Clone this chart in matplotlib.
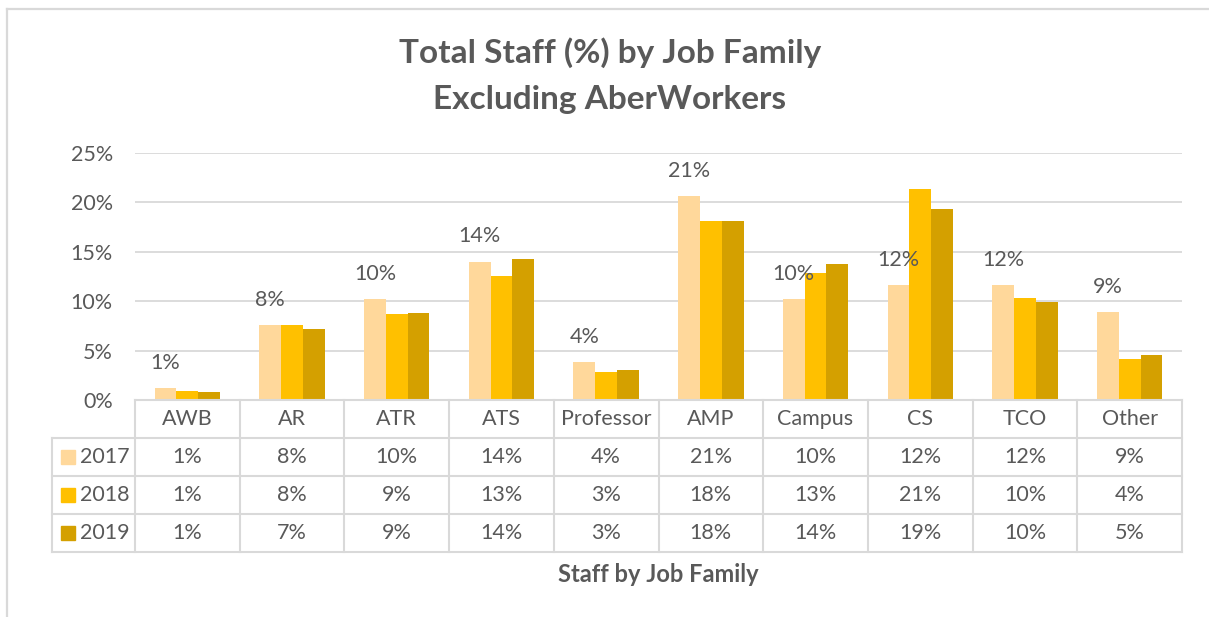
import matplotlib.pyplot as plt
from matplotlib.patches import Rectangle
import numpy as np

plt.rcParams['font.family'] = ['Lato', 'DejaVu Sans']

# data (percent of total staff)
families = ['AWB', 'AR', 'ATR', 'ATS', 'Professor', 'AMP', 'Campus', 'CS', 'TCO', 'Other']
years = ['2017', '2018', '2019']
staff_2017 = [1.2, 7.6, 10.2, 14.0, 3.8, 20.6, 10.2, 11.6, 11.6, 8.9]
staff_2018 = [0.9, 7.55, 8.7, 12.6, 2.8, 18.1, 12.9, 21.4, 10.35, 4.2]
staff_2019 = [0.8, 7.15, 8.8, 14.3, 3.0, 18.1, 13.75, 19.3, 9.9, 4.55]
yticks = [0, 5, 10, 15, 20, 25]

colors = ['#FFD89B', '#FFC000', '#D4A000']
grey = '#595959'
line = '#D9D9D9'
fs = 15.5

W, H = 1209, 617
fig = plt.figure(figsize=(W / 100, H / 100), dpi=100)


def px(x0, y0, x1, y1):
    # pixel box (top-left origin) -> figure fraction rect
    return [x0 / W, 1 - y1 / H, (x1 - x0) / W, (y1 - y0) / H]


ax = fig.add_axes(px(135, 153, 1182, 400))
series = [staff_2017, staff_2018, staff_2019]
x = np.arange(len(families))
bw = 0.208
for i, (vals, c) in enumerate(zip(series, colors)):
    ax.bar(x + (i - 1) * bw, vals, bw, color=c, zorder=3)

# labels only on the 2017 series
for xi, v in zip(x, staff_2017):
    ax.text(xi - bw, v + 2.55, f'{v:.0f}%', ha='center', va='center',
            fontsize=fs, color=grey, zorder=4)

ax.set_xlim(-0.5, len(families) - 0.5)
ax.set_ylim(0, 25)
ax.set_yticks(yticks)
ax.set_yticklabels([f'{t}%' for t in yticks])
ax.set_xticks([])
ax.yaxis.grid(True, color=line, lw=1.3)
ax.set_axisbelow(True)
for s in ax.spines.values():
    s.set_visible(False)
ax.tick_params(axis='y', length=0, pad=16, labelsize=fs, labelcolor=grey)
ax.patch.set_alpha(0)

# overlay in pixel coordinates for the data table and frame
lay = fig.add_axes([0, 0, 1, 1])
lay.set_xlim(0, W)
lay.set_ylim(H, 0)
lay.axis('off')
lay.patch.set_alpha(0)

cols = np.linspace(135, 1182, len(families) + 1)
rows = [400, 438, 476, 514, 552]
lab_x = 52

lay.plot([cols[0], cols[-1]], [rows[0], rows[0]], color=line, lw=1.5)
for r in rows[1:]:
    lay.plot([lab_x, cols[-1]], [r, r], color=line, lw=1.5)
lay.plot([lab_x, lab_x], [rows[1], rows[-1]], color=line, lw=1.5)
for c in cols:
    lay.plot([c, c], [rows[0], rows[-1]], color=line, lw=1.5)

for k, name in enumerate(families):
    cx = (cols[k] + cols[k + 1]) / 2
    lay.text(cx, (rows[0] + rows[1]) / 2, name, ha='center', va='center',
             fontsize=fs, color=grey)
    for j, vals in enumerate(series):
        lay.text(cx, (rows[j + 1] + rows[j + 2]) / 2, f'{vals[k]:.0f}%',
                 ha='center', va='center', fontsize=fs, color=grey)

for j, (yr, c) in enumerate(zip(years, colors)):
    cy = (rows[j + 1] + rows[j + 2]) / 2
    lay.add_patch(Rectangle((61, cy - 7), 14, 14, color=c))
    lay.text(80, cy, yr, ha='left', va='center', fontsize=fs, color=grey)

# chart frame
lay.plot([7, 7], [8.5, H], color=line, lw=1.6)
lay.plot([7, W], [8.5, 8.5], color=line, lw=1.6)

fig.text(610 / W, 1 - 53 / H, 'Total Staff (%) by Job Family', ha='center',
         va='center', fontsize=24, fontweight='bold', color=grey)
fig.text(610 / W, 1 - 100 / H, 'Excluding AberWorkers', ha='center',
         va='center', fontsize=24, fontweight='bold', color=grey)
fig.text(658 / W, 1 - 574 / H, 'Staff by Job Family', ha='center',
         va='center', fontsize=17, fontweight='bold', color=grey)

fig.savefig('out.png', dpi=100)
